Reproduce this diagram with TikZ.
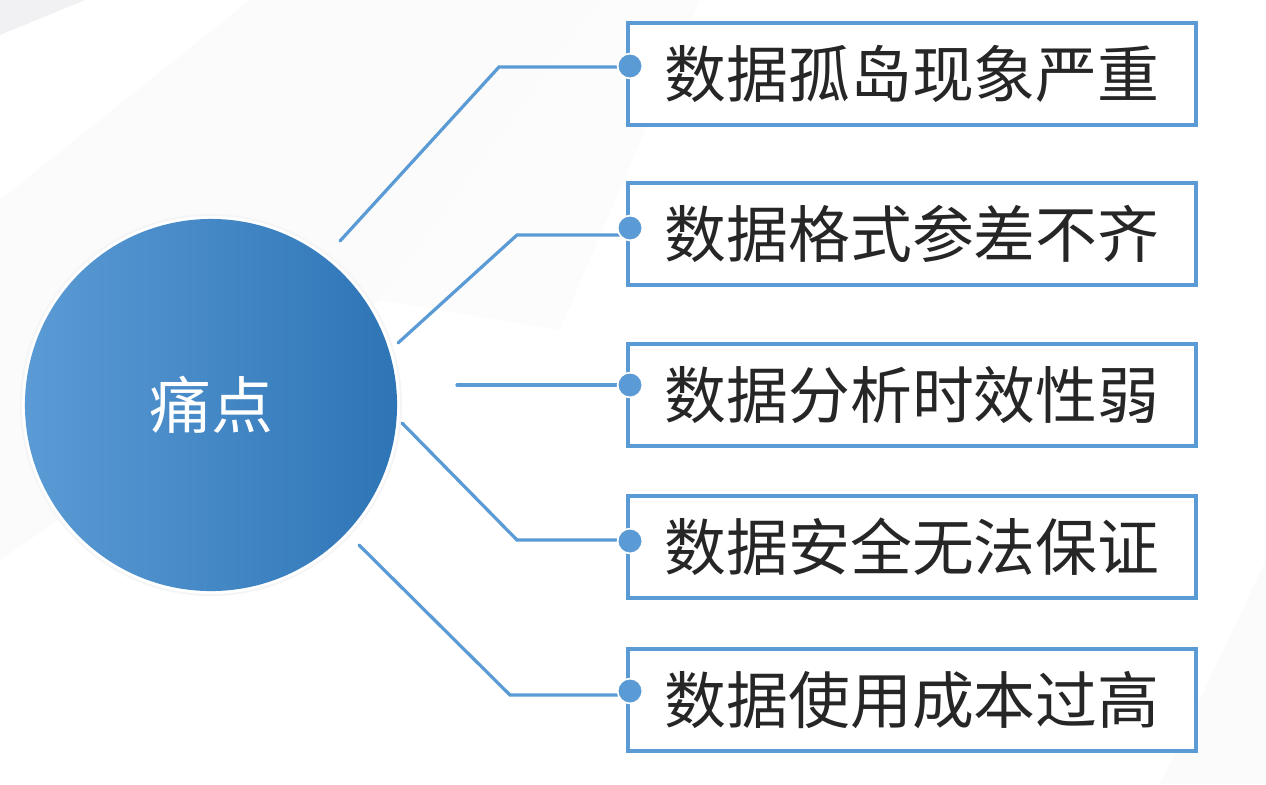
\documentclass[tikz,border=0pt]{standalone}
\usepackage{fontspec}
\newfontfamily\cjk{Noto Sans CJK SC}
\usepackage{tikz}
\usetikzlibrary{positioning, calc}
\usepackage{xcolor}
\definecolor{lineblue}{RGB}{91,155,213}
\definecolor{darkblue}{RGB}{46,117,182}
\definecolor{txtgray}{RGB}{38,38,38}

\begin{document}
\begin{tikzpicture}[
    x=0.025cm, y=-0.025cm,
    painbox/.style={draw=lineblue, line width=2.4pt, fill=white, minimum width=14.2cm,
                    minimum height=2.55cm, inner sep=0pt, font=\cjk\fontsize{44}{44}\selectfont,
                    text=txtgray},
    hub/.style={circle, minimum size=9.3cm, inner sep=0pt, left color=lineblue, right color=darkblue,
                shading angle=90, text=white, font=\cjk\fontsize{44}{44}\selectfont},
    dot/.style={circle, fill=lineblue, draw=white, line width=1.2pt, minimum size=0.62cm, inner sep=0pt},
    link/.style={draw=lineblue, line width=2.3pt, line cap=round}
]
% background
\useasboundingbox (0,0) rectangle (1266,784);
\fill[white] (0,0) rectangle (1266,784);
\fill[black!1.5] (0,200) -- (250,0) -- (600,0) -- (380,300) -- (0,560) -- cycle;
\fill[black!1] (600,0) -- (700,0) -- (560,330) -- (380,300) -- cycle;
\fill[black!1.5] (1266,560) -- (1266,784) -- (1160,784) -- cycle;
\fill[blue!6!gray!10] (0,0) -- (85,0) -- (0,35) -- cycle;

% centre
\fill[black!4] (211,405) circle (191);
\fill[white] (211,405) circle (189);
\node[hub] (pain) at (211,405) {痛点};

% items
\node[painbox] (b1) at (912,74) {数据孤岛现象严重};
\node[painbox] (b2) at (912,234) {数据格式参差不齐};
\node[painbox] (b3) at (912,395) {数据分析时效性弱};
\node[painbox] (b4) at (912,547) {数据安全无法保证};
\node[painbox] (b5) at (912,700) {数据使用成本过高};

% line ends near the circle and bends
\coordinate (s1) at (340,241);  \coordinate (k1) at (499,67);
\coordinate (s2) at (398,343);  \coordinate (k2) at (517,235);
\coordinate (s3) at (457,385);
\coordinate (s4) at (402,423);  \coordinate (k4) at (517,540);
\coordinate (s5) at (359,545);  \coordinate (k5) at (510,695);
\coordinate (e1) at (630,67);
\coordinate (e2) at (630,235);
\coordinate (e3) at (630,385);
\coordinate (e4) at (630,540);
\coordinate (e5) at (630,695);

\draw[link] (s1) -- (k1) -- (e1);
\draw[link] (s2) -- (k2) -- (e2);
\draw[link] (s3) -- (e3);
\draw[link] (s4) -- (k4) -- (e4);
\draw[link] (s5) -- (k5) -- (e5);

\node[dot] (d1) at (630,66) {};
\node[dot] (d2) at (630,228) {};
\node[dot] (d3) at (630,385) {};
\node[dot] (d4) at (630,541) {};
\node[dot] (d5) at (630,691) {};
\end{tikzpicture}
\end{document}
